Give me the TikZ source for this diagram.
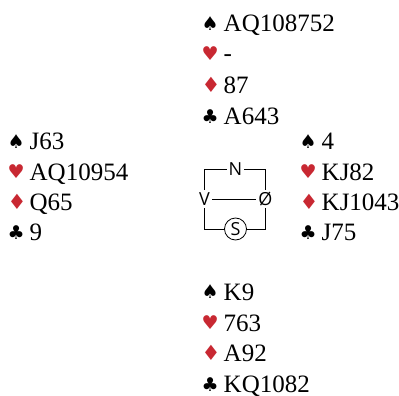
\documentclass[tikz,border=0pt]{standalone}
\usepackage{fontspec}
\setmainfont{Liberation Serif}
\newfontfamily\suitfont{DejaVu Sans}
\newfontfamily\compassfont{Open Sans}
\definecolor{suitred}{RGB}{200,40,50}
\newcommand{\suitS}{\makebox[22pt][l]{\suitfont\fontsize{19}{19}\selectfont\raisebox{1.5pt}{♠}}}
\newcommand{\suitH}{\makebox[22pt][l]{\suitfont\fontsize{19}{19}\selectfont\color{suitred}\raisebox{1.5pt}{♥}}}
\newcommand{\suitD}{\makebox[22pt][l]{\suitfont\fontsize{21}{21}\selectfont\color{suitred}\raisebox{0.5pt}{♦}}}
\newcommand{\suitC}{\makebox[22pt][l]{\suitfont\fontsize{19}{19}\selectfont\raisebox{0.5pt}{♣}}}
\begin{document}
\begin{tikzpicture}[x=1pt, y=-1pt,
    cards/.style={anchor=base west, inner sep=0pt, font=\fontsize{25}{30}\selectfont},
    dir/.style={inner sep=2pt, font=\compassfont\fontsize{18}{18}\selectfont},
    seat/.style={line width=0.8pt}
]
\useasboundingbox (0,0) rectangle (399,396);
% North
\node[cards] (n1) at (201.5,31.5) {\suitS AQ108752};
\node[cards] (n2) at (201.5,62) {\suitH -};
\node[cards] (n3) at (201.5,93) {\suitD 87};
\node[cards] (n4) at (201.5,124) {\suitC A643};
% West
\node[cards] (w1) at (7.5,149.5) {\suitS J63};
\node[cards] (w2) at (7.5,180) {\suitH AQ10954};
\node[cards] (w3) at (7.5,210) {\suitD Q65};
\node[cards] (w4) at (7.5,240) {\suitC 9};
% East
\node[cards] (e1) at (299.5,149.5) {\suitS 4};
\node[cards] (e2) at (299.5,180) {\suitH KJ82};
\node[cards] (e3) at (299.5,210) {\suitD KJ1043};
\node[cards] (e4) at (299.5,240) {\suitC J75};
% South
\node[cards] (s1) at (201.5,300) {\suitS K9};
\node[cards] (s2) at (201.5,331) {\suitH 763};
\node[cards] (s3) at (201.5,361) {\suitD A92};
\node[cards] (s4) at (201.5,392) {\suitC KQ1082};

% compass
\node[dir] (N) at (235.5,169) {N};
\node[dir] (V) at (204.5,199) {V};
\node[dir] (O) at (265.5,199) {Ø};
\node[dir, circle, draw, line width=0.8pt, minimum size=22pt, inner sep=1pt] (S) at (235.5,229) {S};

\draw[seat] (N) -| (V);
\draw[seat] (N) -| (O);
\draw[seat] (S) -| (V);
\draw[seat] (S) -| (O);
\draw[seat] (V) -- (O);
\end{tikzpicture}
\end{document}
